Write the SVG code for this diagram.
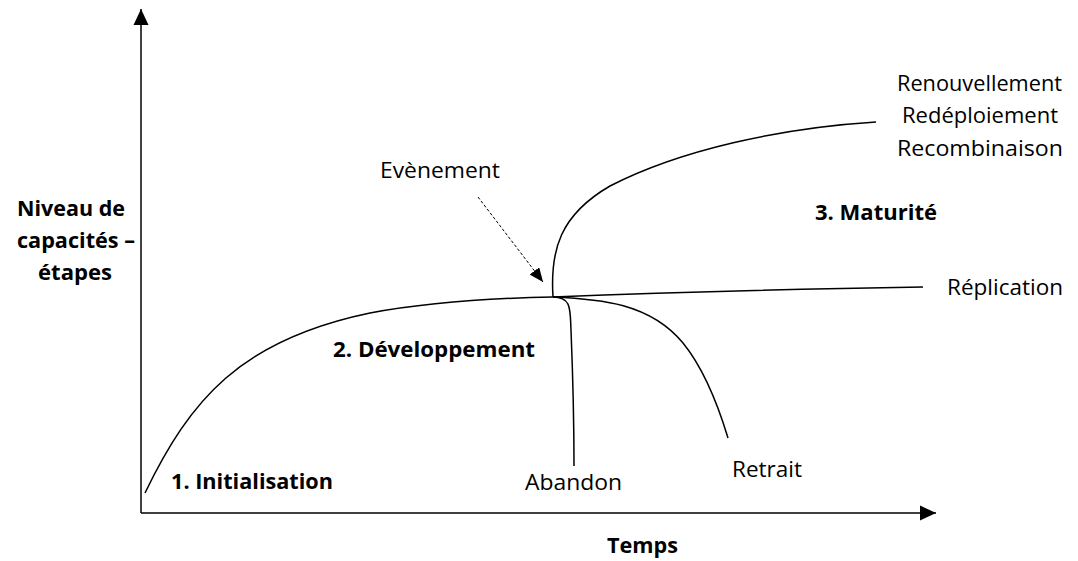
<svg xmlns="http://www.w3.org/2000/svg" width="1078" height="561" viewBox="0 0 1078 561">
<defs>
<marker id="ah" viewBox="0 0 14 12" refX="14" refY="6" markerWidth="14" markerHeight="12" markerUnits="userSpaceOnUse" orient="auto">
<path d="M0,0 L14,6 L0,12 Z" fill="#000"/>
</marker>
<marker id="axh" viewBox="0 0 16 16" refX="16" refY="8" markerWidth="16" markerHeight="16" markerUnits="userSpaceOnUse" orient="auto">
<path d="M0,0.5 L16,8 L0,15.5 Z" fill="#000"/>
</marker>
</defs>
<style>
.t{font-family:"Open Sans","Liberation Sans",sans-serif;font-size:22px;fill:#000}
.b{font-weight:bold}
.c{fill:none;stroke:#000;stroke-width:1.5}
</style>
<rect width="1078" height="561" fill="#fff"/>
<g id="connectors">
<line class="c" x1="141" y1="513" x2="141" y2="9" marker-end="url(#axh)"/>
<line class="c" x1="141" y1="513" x2="936" y2="513" marker-end="url(#axh)"/>
<path class="c" d="M145,493 C190,400 240,340 370,313 C430,302 500,298 553,297"/>
<path class="c" d="M553,297 C680,292 800,289 923,287"/>
<path class="c" d="M553,297 C550,250 560,215 610,186 C680,150 780,128 876,122"/>
<path class="c" d="M553,297 C572,297 570,310 571,330 C573,380 574,430 574,466"/>
<path class="c" d="M553,297 C600,299 650,303 683,343 C705,370 718,405 728,438"/>
<line x1="478" y1="197" x2="543" y2="282" stroke="#000" stroke-width="1" stroke-dasharray="3,2" marker-end="url(#ah)"/>
</g>
<g id="axis-y-label">
<text class="t b" x="17" y="216" textLength="108" lengthAdjust="spacingAndGlyphs">Niveau de</text>
<text class="t b" x="17" y="248" textLength="118" lengthAdjust="spacingAndGlyphs">capacités –</text>
<text class="t b" x="38" y="280" textLength="74" lengthAdjust="spacingAndGlyphs">étapes</text>
</g>
<g id="axis-x-label"><text class="t b" x="607" y="553" textLength="71" lengthAdjust="spacingAndGlyphs">Temps</text></g>
<g id="stage1"><text class="t b" x="171" y="489" textLength="162" lengthAdjust="spacingAndGlyphs">1. Initialisation</text></g>
<g id="stage2"><text class="t b" x="333" y="357" textLength="202" lengthAdjust="spacingAndGlyphs">2. Développement</text></g>
<g id="stage3"><text class="t b" x="815" y="220" textLength="122" lengthAdjust="spacingAndGlyphs">3. Maturité</text></g>
<g id="evenement"><text class="t" x="380" y="178" textLength="120" lengthAdjust="spacingAndGlyphs">Evènement</text></g>
<g id="renouvellement">
<text class="t" x="897" y="91" textLength="165" lengthAdjust="spacingAndGlyphs">Renouvellement</text>
<text class="t" x="902" y="123" textLength="156" lengthAdjust="spacingAndGlyphs">Redéploiement</text>
<text class="t" x="897" y="156" textLength="166" lengthAdjust="spacingAndGlyphs">Recombinaison</text>
</g>
<g id="replication"><text class="t" x="947" y="295" textLength="116" lengthAdjust="spacingAndGlyphs">Réplication</text></g>
<g id="abandon"><text class="t" x="525" y="490" textLength="97" lengthAdjust="spacingAndGlyphs">Abandon</text></g>
<g id="retrait"><text class="t" x="732" y="477" textLength="70" lengthAdjust="spacingAndGlyphs">Retrait</text></g>
</svg>
